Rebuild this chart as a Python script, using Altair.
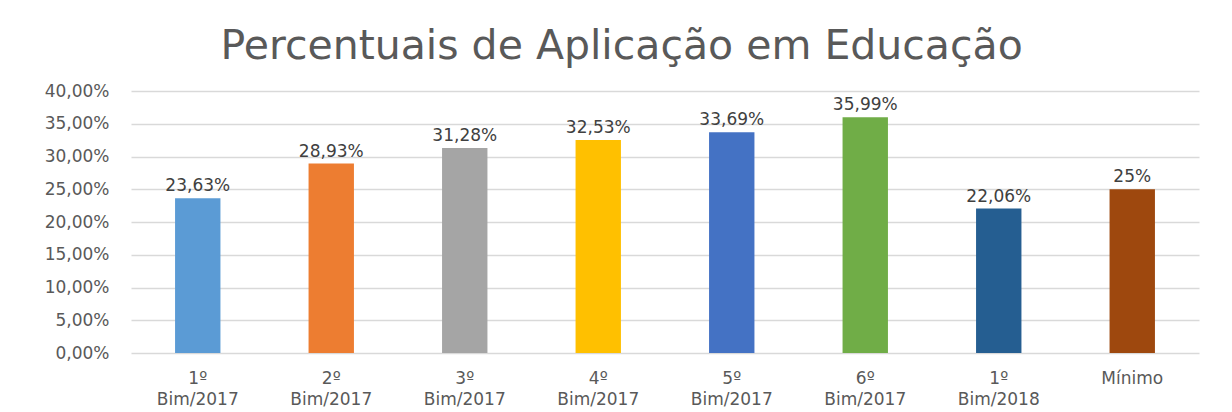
import altair as alt
import pandas as pd

categories = ["1º|Bim/2017", "2º|Bim/2017", "3º|Bim/2017", "4º|Bim/2017",
              "5º|Bim/2017", "6º|Bim/2017", "1º|Bim/2018", "Mínimo"]
values = [0.2363, 0.2893, 0.3128, 0.3253, 0.3369, 0.3599, 0.2206, 0.25]
labels = ["23,63%", "28,93%", "31,28%", "32,53%", "33,69%", "35,99%", "22,06%", "25%"]
colors = ["#5B9BD5", "#ED7D31", "#A5A5A5", "#FFC000", "#4472C4", "#70AD47", "#255E91", "#9E480E"]
y_ticks = [0, 0.05, 0.1, 0.15, 0.2, 0.25, 0.3, 0.35, 0.4]

df = pd.DataFrame({"cat": categories, "val": values, "lab": labels})

FONT = "DejaVu Sans"
GREY = "#595959"

x = alt.X("cat:N", sort=categories, title=None,
          scale=alt.Scale(paddingInner=0.66, paddingOuter=0.33),
          axis=alt.Axis(labelAngle=0, labelExpr="split(datum.label, '|')",
                        labelFontSize=17, labelColor=GREY, labelFont=FONT,
                        labelLineHeight=21, ticks=False, domain=False,
                        labelPadding=17))
y = alt.Y("val:Q", title=None,
          scale=alt.Scale(domain=[0, 0.4]),
          axis=alt.Axis(values=y_ticks, labelOverlap=False, tickCount=20,
                        labelExpr="replace(format(datum.value, '.2%'), '.', ',')",
                        labelFontSize=17, labelColor=GREY, labelFont=FONT,
                        ticks=False, domain=False, gridColor="#D9D9D9",
                        gridWidth=1.5, labelPadding=22))

bars = alt.Chart(df).mark_bar().encode(
    x=x, y=y,
    color=alt.Color("cat:N", sort=categories,
                    scale=alt.Scale(domain=categories, range=colors), legend=None),
)
text = alt.Chart(df).mark_text(baseline="bottom", dy=-3, fontSize=17,
                               color="#404040", font=FONT).encode(
    x=x, y=y, text="lab:N")

chart = (bars + text).properties(
    width=1068, height=262,
    title=alt.TitleParams("Percentuais de Aplicação em Educação", fontSize=41,
                          font=FONT, fontWeight="normal", color=GREY,
                          anchor="middle", frame="bounds", offset=14),
    padding={"left": 36, "top": 18, "right": 20, "bottom": 5},
).configure_view(stroke=None)

chart.save("out.html", embed_options={"renderer": "svg", "actions": False})
